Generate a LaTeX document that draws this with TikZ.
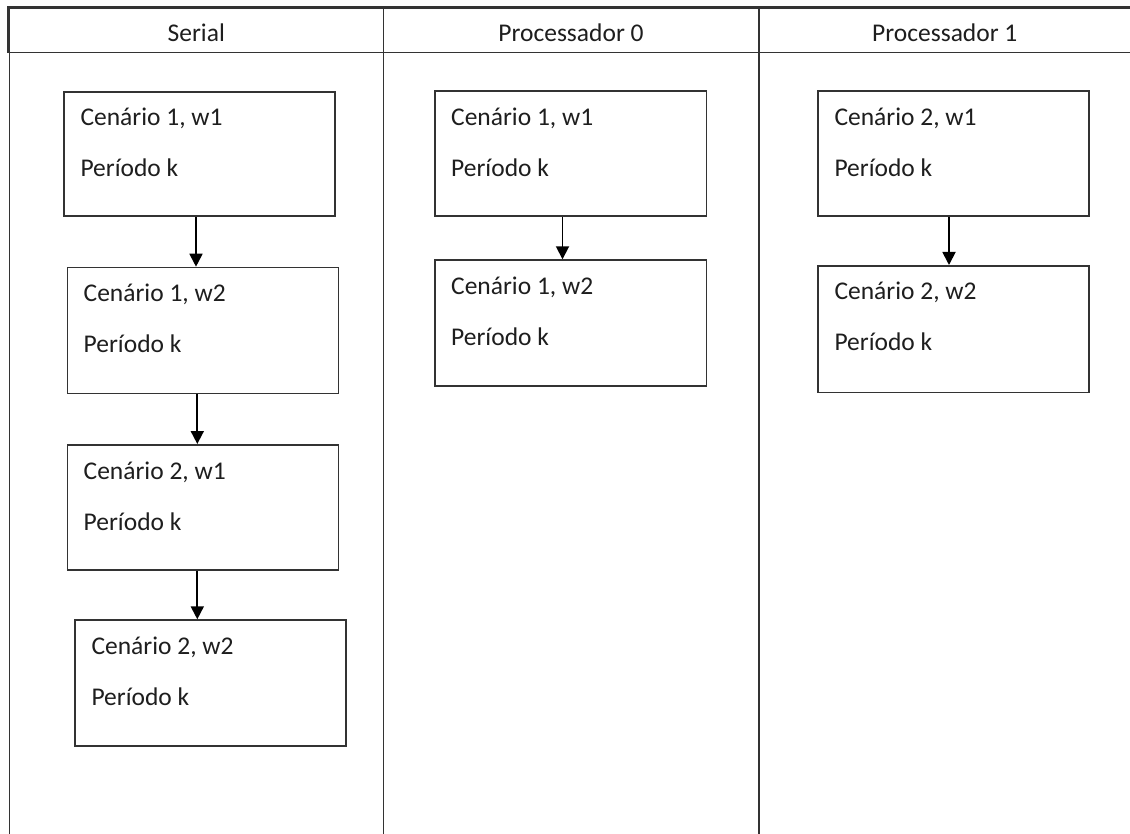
\documentclass[tikz,border=0pt]{standalone}
\usepackage{fontspec}
\setmainfont{Carlito}
\usetikzlibrary{arrows.meta}

\definecolor{ink}{HTML}{1E1E1E}
\definecolor{rule}{HTML}{333333}

\tikzset{
  lane/.style={draw=rule, line width=1.4pt},
  headrule/.style={draw=rule, line width=2.7pt},
  stagebox/.style={draw=rule, line width=1.7pt, rectangle, anchor=north west, inner sep=0pt},
  boxtext/.style={text=ink, font=\fontsize{25.5}{30}\selectfont, anchor=base west, inner sep=0pt},
  headtext/.style={text=ink, font=\fontsize{25.5}{30}\selectfont, anchor=base, inner sep=0pt},
  flow/.style={draw=black, line width=1.8pt, -{Triangle[width=13pt,length=13pt]}},
}

% box with two text lines: name, left x, top y, width, height, first line
\newcommand{\stage}[6]{%
  \node[stagebox, minimum width=#4pt, minimum height=#5pt] (#1) at (#2,#3) {};
  \node[boxtext] (#1-a) at ([xshift=17pt,yshift=-35pt]#1.north west) {#6};
  \node[boxtext] (#1-b) at ([xshift=17pt,yshift=-86pt]#1.north west) {Período k};
}

\begin{document}
\begin{tikzpicture}[x=1pt,y=-1pt]
  \useasboundingbox (0,0) rectangle (1130,834);
  \fill[white] (0,0) rectangle (1130,834);

  % lane frame
  \coordinate (tl) at (8.3,7.3);
  \coordinate (tr) at (1130,7.3);
  \coordinate (hl) at (8.3,52.7);
  \coordinate (hr) at (1130,52.7);
  \coordinate (l0) at (9.5,52.7);
  \coordinate (l0b) at (9.5,834);
  \coordinate (l1t) at (383.3,7.3);
  \coordinate (l1b) at (383.3,834);
  \coordinate (l2t) at (759,7.3);
  \coordinate (l2b) at (759,834);

  \draw[lane] (hl) -- (hr);
  \draw[lane] (l0) -- (l0b);
  \draw[lane] (l1t) -- (l1b);
  \draw[lane] (l2t) -- (l2b);
  \draw[headrule] (tr) -- (tl) -- (hl);

  \node[headtext] (h0) at (196.3,41.7) {Serial};
  \node[headtext] (h1) at (571,41.7) {Processador 0};
  \node[headtext] (h2) at (944.8,41.7) {Processador 1};

  % serial lane
  \stage{s1}{63.3}{91}{271}{124.5}{Cenário 1, w1}
  \stage{s2}{66.5}{266.7}{271}{126}{Cenário 1, w2}
  \stage{s3}{66.5}{444}{271}{125}{Cenário 2, w1}
  \stage{s4}{74.3}{619.3}{271}{126}{Cenário 2, w2}

  % processor 0
  \stage{p1}{434}{90.5}{271.5}{125}{Cenário 1, w1}
  \stage{p2}{434}{259.3}{271.5}{125.7}{Cenário 1, w2}

  % processor 1
  \stage{q1}{817.3}{90.5}{271}{125}{Cenário 2, w1}
  \stage{q2}{817.3}{265}{271}{126.7}{Cenário 2, w2}

  \draw[flow] (s1.south -| 196,0) -- (s2.north -| 196,0);
  \draw[flow] (s2.south -| 197.3,0) -- (s3.north -| 197.3,0);
  \draw[flow] (s3.south -| 197.3,0) -- (s4.north -| 197.3,0);
  \draw[flow] (p1.south -| 562.5,0) -- (p2.north -| 562.5,0);
  \draw[flow] (q1.south -| 949,0) -- (q2.north -| 949,0);
\end{tikzpicture}
\end{document}
